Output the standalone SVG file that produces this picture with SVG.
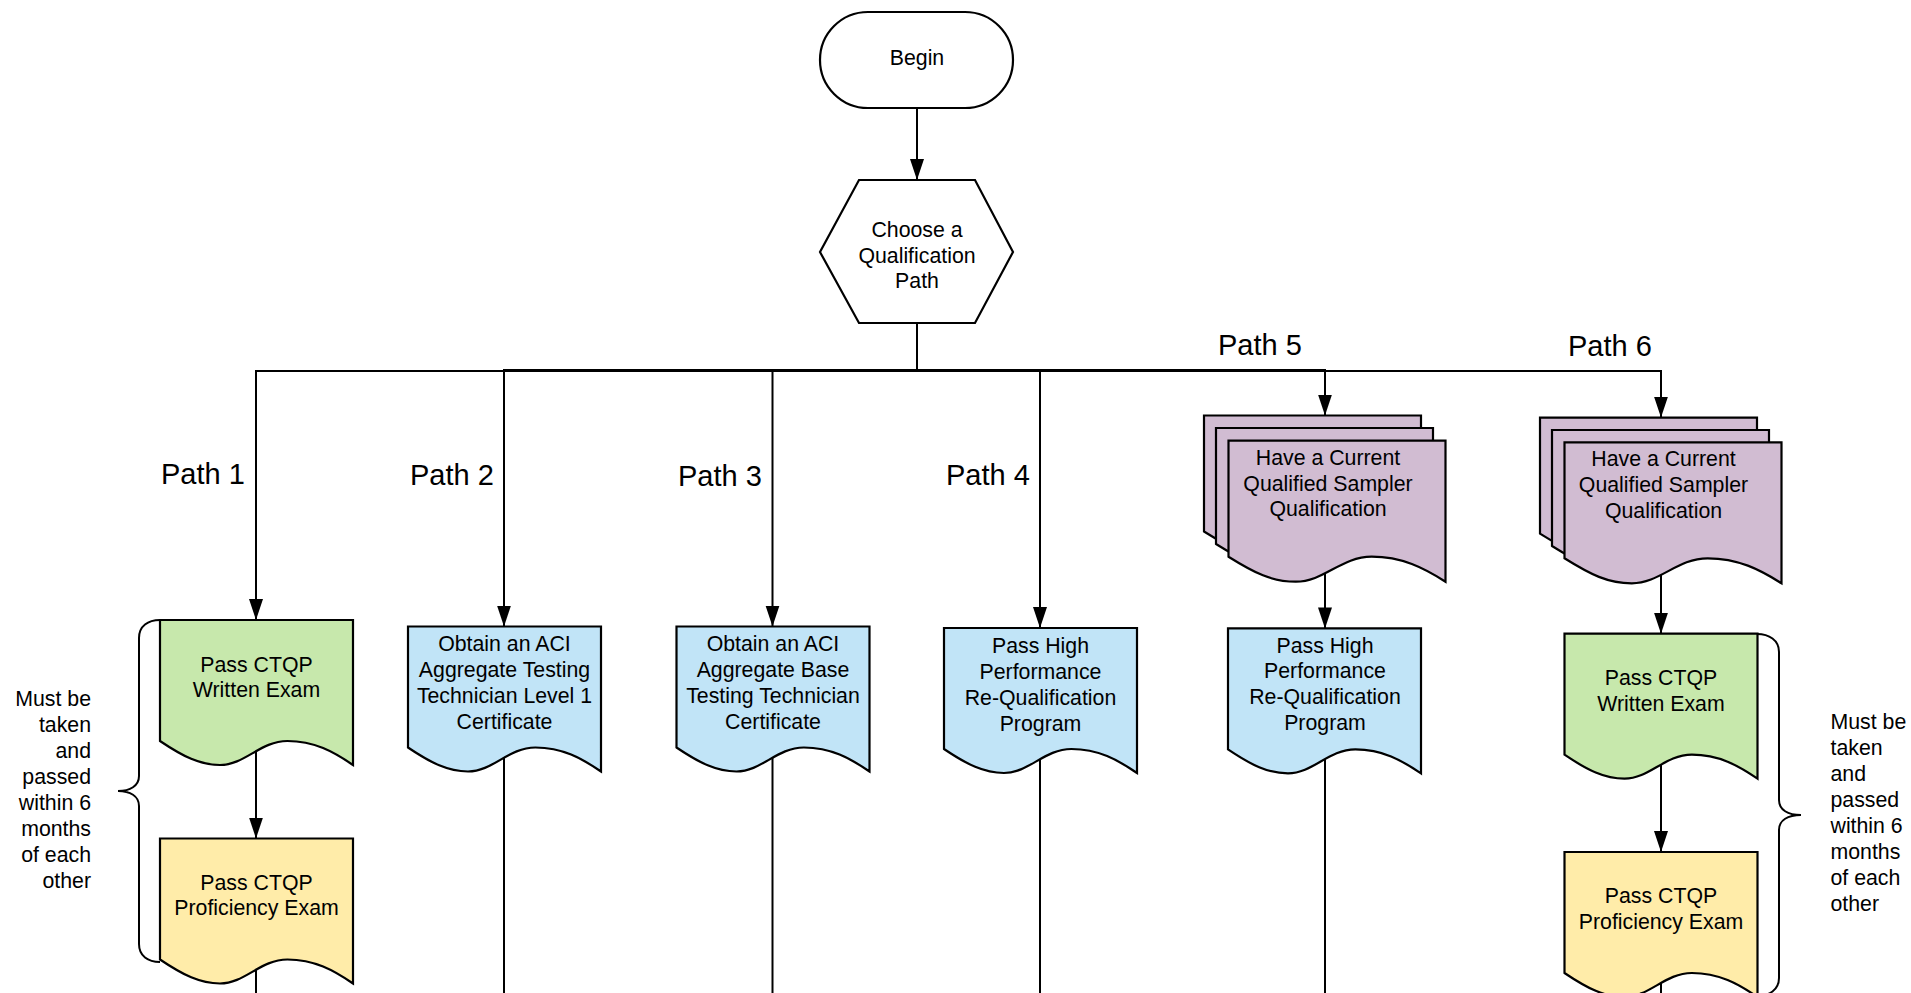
<svg xmlns="http://www.w3.org/2000/svg" width="1911" height="993" viewBox="0 0 1911 993">
<defs>
<marker id="arr" markerUnits="userSpaceOnUse" markerWidth="22" markerHeight="16" refX="21" refY="7" orient="auto">
<path d="M0,0 L21,7 L0,14 z" fill="#000"/>
</marker>
<style>
.ln{fill:none;stroke:#000;stroke-width:2}
.ar{fill:none;stroke:#000;stroke-width:2;marker-end:url(#arr)}
.sh{stroke:#000;stroke-width:2.2;stroke-linejoin:miter}
.white{fill:#fff}
.green{fill:#C7E8AC}
.yellow{fill:#FFECA9}
.blue{fill:#C1E4F7}
.purple{fill:#D1BCD2}
text{font-family:"Liberation Sans",Arial,sans-serif;fill:#000}
.t{font-size:21.3px;text-anchor:middle}
.p{font-size:29px}
.n{font-size:21.3px}
</style>
</defs>
<rect width="1911" height="993" fill="#fff"/>

<g id="connectors">
<path class="ar" d="M917,108 V180"/>
<path class="ar" d="M917,323 V371 H256 V620"/>
<path class="ar" d="M917,323 V370 H504 V626.5"/>
<path class="ar" d="M917,323 V370 H772.5 V626.5"/>
<path class="ar" d="M917,323 V370 H1040 V628"/>
<path class="ar" d="M917,323 V370 H1325 V415.5"/>
<path class="ar" d="M917,323 V371 H1661 V417.6"/>
<path class="ar" d="M256,745 V838.5"/>
<path class="ln" d="M256,965 V993"/>
<path class="ln" d="M504,750 V993"/>
<path class="ln" d="M772.5,750 V993"/>
<path class="ln" d="M1040,752 V993"/>
<path class="ar" d="M1325,560 V628.4"/>
<path class="ln" d="M1325,752 V993"/>
<path class="ar" d="M1661,560 V633.7"/>
<path class="ar" d="M1661,760 V852"/>
<path class="ln" d="M1661,975 V993"/>
</g>

<g id="begin">
<rect class="sh white" x="820" y="12" width="193" height="96" rx="48" ry="48"/>
<text class="t" x="917" y="65">Begin</text>
</g>

<g id="choose">
<polygon class="sh white" points="859,180 975,180 1013,252 975,323 859,323 820,252"/>
<text class="t" x="917" y="237">Choose a</text>
<text class="t" x="917" y="262.7">Qualification</text>
<text class="t" x="917" y="288.4">Path</text>
</g>

<g id="labels">
<text class="p" x="161" y="483.5">Path 1</text>
<text class="p" x="410" y="485">Path 2</text>
<text class="p" x="678" y="485.5">Path 3</text>
<text class="p" x="946" y="485">Path 4</text>
<text class="p" x="1218" y="354.5">Path 5</text>
<text class="p" x="1568" y="355.5">Path 6</text>
</g>

<g id="p1-written">
<path class="sh green" d="M160,620 h193 v145 c-19.3,-13.2 -38.6,-24 -65.6,-24 c-27,0 -42.5,24 -67.4,24 c-20,0 -36.8,-8.4 -60,-24 z"/>
<text class="t" x="256.5" y="672">Pass CTQP</text>
<text class="t" x="256.5" y="697">Written Exam</text>
</g>

<g id="p1-proficiency">
<path class="sh yellow" d="M160,838.5 h193 v145 c-19.3,-13.2 -38.6,-24 -65.6,-24 c-27,0 -42.5,24 -67.4,24 c-20,0 -36.8,-8.4 -60,-24 z"/>
<text class="t" x="256.5" y="889.5">Pass CTQP</text>
<text class="t" x="256.5" y="915">Proficiency Exam</text>
</g>

<g id="p2-aci">
<path class="sh blue" d="M408,626.5 h193 v145 c-19.3,-13.2 -38.6,-24 -65.6,-24 c-27,0 -42.5,24 -67.4,24 c-20,0 -36.8,-8.4 -60,-24 z"/>
<text class="t" x="504.5" y="650.7">Obtain an ACI</text>
<text class="t" x="504.5" y="676.7">Aggregate Testing</text>
<text class="t" x="504.5" y="702.7">Technician Level 1</text>
<text class="t" x="504.5" y="728.7">Certificate</text>
</g>

<g id="p3-aci">
<path class="sh blue" d="M676.5,626.5 h193 v145 c-19.3,-13.2 -38.6,-24 -65.6,-24 c-27,0 -42.5,24 -67.4,24 c-20,0 -36.8,-8.4 -60,-24 z"/>
<text class="t" x="773" y="650.7">Obtain an ACI</text>
<text class="t" x="773" y="676.7">Aggregate Base</text>
<text class="t" x="773" y="702.7">Testing Technician</text>
<text class="t" x="773" y="728.7">Certificate</text>
</g>

<g id="p4-hp">
<path class="sh blue" d="M944,628 h193 v145 c-19.3,-13.2 -38.6,-24 -65.6,-24 c-27,0 -42.5,24 -67.4,24 c-20,0 -36.8,-8.4 -60,-24 z"/>
<text class="t" x="1040.5" y="652.5">Pass High</text>
<text class="t" x="1040.5" y="678.5">Performance</text>
<text class="t" x="1040.5" y="704.5">Re-Qualification</text>
<text class="t" x="1040.5" y="730.5">Program</text>
</g>

<g id="p5-sampler">
<path class="sh purple" d="M1204,415.5 h217 v141 c-21.7,-13.75 -43.4,-25 -73.8,-25 c-30.4,0 -47.7,25 -75.9,25 c-23.9,0 -41.3,-8.75 -67.3,-25 z"/>
<path class="sh purple" d="M1216,428 h217 v141 c-21.7,-13.75 -43.4,-25 -73.8,-25 c-30.4,0 -47.7,25 -75.9,25 c-23.9,0 -41.3,-8.75 -67.3,-25 z"/>
<path class="sh purple" d="M1228.5,440.7 h217 v141 c-21.7,-13.75 -43.4,-25 -73.8,-25 c-30.4,0 -47.7,25 -75.9,25 c-23.9,0 -41.3,-8.75 -67.3,-25 z"/>
<text class="t" x="1328" y="464.5">Have a Current</text>
<text class="t" x="1328" y="490.5">Qualified Sampler</text>
<text class="t" x="1328" y="516">Qualification</text>
</g>

<g id="p5-hp">
<path class="sh blue" d="M1228,628.4 h193 v145 c-19.3,-13.2 -38.6,-24 -65.6,-24 c-27,0 -42.5,24 -67.4,24 c-20,0 -36.8,-8.4 -60,-24 z"/>
<text class="t" x="1325" y="652.5">Pass High</text>
<text class="t" x="1325" y="678">Performance</text>
<text class="t" x="1325" y="704">Re-Qualification</text>
<text class="t" x="1325" y="730">Program</text>
</g>

<g id="p6-sampler">
<path class="sh purple" d="M1540,417.6 h217 v141 c-21.7,-13.75 -43.4,-25 -73.8,-25 c-30.4,0 -47.7,25 -75.9,25 c-23.9,0 -41.3,-8.75 -67.3,-25 z"/>
<path class="sh purple" d="M1552,430 h217 v141 c-21.7,-13.75 -43.4,-25 -73.8,-25 c-30.4,0 -47.7,25 -75.9,25 c-23.9,0 -41.3,-8.75 -67.3,-25 z"/>
<path class="sh purple" d="M1564.5,442.3 h217 v141 c-21.7,-13.75 -43.4,-25 -73.8,-25 c-30.4,0 -47.7,25 -75.9,25 c-23.9,0 -41.3,-8.75 -67.3,-25 z"/>
<text class="t" x="1663.5" y="466">Have a Current</text>
<text class="t" x="1663.5" y="492">Qualified Sampler</text>
<text class="t" x="1663.5" y="517.5">Qualification</text>
</g>

<g id="p6-written">
<path class="sh green" d="M1564.5,633.7 h193 v145 c-19.3,-13.2 -38.6,-24 -65.6,-24 c-27,0 -42.5,24 -67.4,24 c-20,0 -36.8,-8.4 -60,-24 z"/>
<text class="t" x="1661" y="684.7">Pass CTQP</text>
<text class="t" x="1661" y="710.7">Written Exam</text>
</g>

<g id="p6-proficiency">
<path class="sh yellow" d="M1564.5,852 h193 v145 c-19.3,-13.2 -38.6,-24 -65.6,-24 c-27,0 -42.5,24 -67.4,24 c-20,0 -36.8,-8.4 -60,-24 z"/>
<text class="t" x="1661" y="903">Pass CTQP</text>
<text class="t" x="1661" y="928.7">Proficiency Exam</text>
</g>

<g id="brace-left">
<path class="ln" d="M160,620 C148,620 139,626 139,638 V776 C139,786 130,791 118,791 C130,791 139,796 139,806 V944 C139,956 148,962 160,962"/>
<text class="n" text-anchor="end" x="91" y="705.7">Must be</text>
<text class="n" text-anchor="end" x="91" y="731.7">taken</text>
<text class="n" text-anchor="end" x="91" y="757.7">and</text>
<text class="n" text-anchor="end" x="91" y="783.7">passed</text>
<text class="n" text-anchor="end" x="91" y="809.7">within 6</text>
<text class="n" text-anchor="end" x="91" y="835.7">months</text>
<text class="n" text-anchor="end" x="91" y="861.7">of each</text>
<text class="n" text-anchor="end" x="91" y="887.7">other</text>
</g>

<g id="brace-right">
<path class="ln" d="M1757,634 C1769,634 1779,640 1779,652 V800 C1779,810 1788,815 1801,815 C1788,815 1779,820 1779,830 V978 C1779,990 1769,996 1757,996"/>
<text class="n" x="1830.5" y="729.4">Must be</text>
<text class="n" x="1830.5" y="755.3">taken</text>
<text class="n" x="1830.5" y="781.2">and</text>
<text class="n" x="1830.5" y="807.1">passed</text>
<text class="n" x="1830.5" y="833">within 6</text>
<text class="n" x="1830.5" y="858.9">months</text>
<text class="n" x="1830.5" y="884.8">of each</text>
<text class="n" x="1830.5" y="910.7">other</text>
</g>
</svg>
